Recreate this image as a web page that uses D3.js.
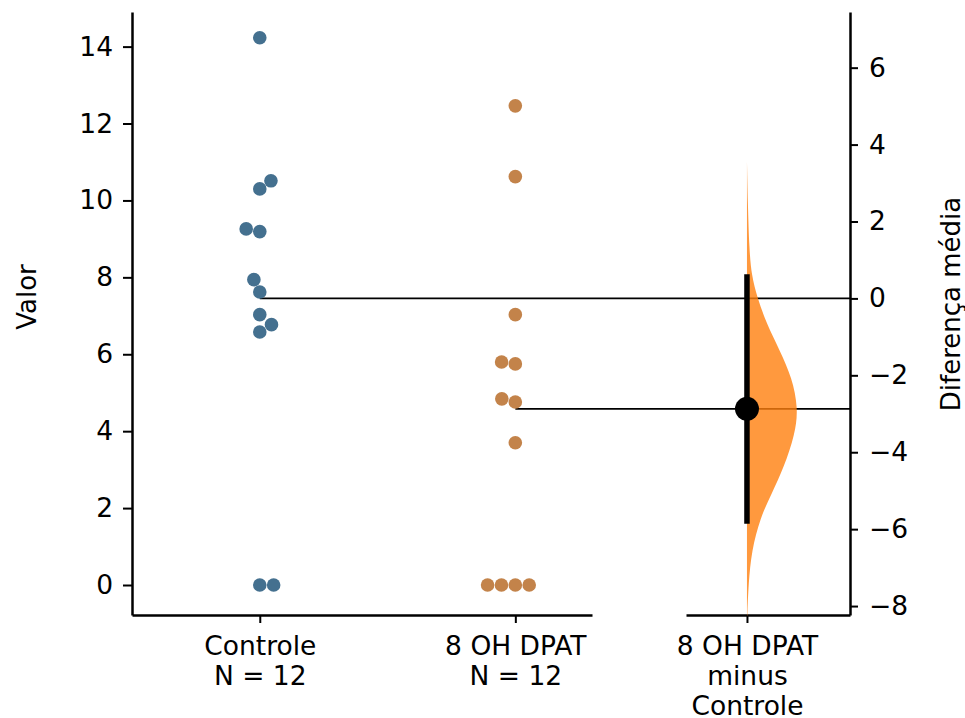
<!DOCTYPE html>
<html>
<head>
<meta charset="utf-8">
<script src="https://cdn.jsdelivr.net/npm/d3@7"></script>
<style>
  html, body { margin: 0; padding: 0; background: #fff; }
  svg { display: block; font-family: "DejaVu Sans", sans-serif; }
</style>
</head>
<body>
<svg id="chart" width="965" height="718"></svg>
<script>
// ---------------- data ----------------
const groups = ["Controle", "8 OH DPAT"];
const controleValues = [0, 0, 6.58, 6.77, 7.03, 7.62, 7.94, 9.19, 9.26, 10.30, 10.51, 14.23];
const dpatValues = [0, 0, 0, 0, 3.70, 4.76, 4.84, 5.75, 5.80, 7.03, 10.62, 12.46];
const groupLabels = [["Controle", "N = 12"], ["8 OH DPAT", "N = 12"]];
const contrastLabel = ["8 OH DPAT", "minus", "Controle"];
const leftTicks = [0, 2, 4, 6, 8, 10, 12, 14];
const rightTicks = [-8, -6, -4, -2, 0, 2, 4, 6];
// bootstrap distribution of the mean difference
const diffGrid = [3.55, 2.5, 1.25, 0.6, 0.03, -0.65, -1.35, -2.06, -2.86, -3.52, -4.40, -5.08, -5.70, -6.56, -7.42, -8.25];
const diffDensity = [0, 0.8, 2.3, 4.5, 10, 19, 32, 44, 50, 47, 36, 24, 13, 4.5, 1.5, 0.3];
const ciLow = -5.86, ciHigh = 0.63;

// ---------------- layout ----------------
const svg = d3.select("#chart");
const plotTop = 12, plotBottom = 615;
const y = d3.scaleLinear().domain([-0.78, 14.9]).range([plotBottom, plotTop]);
const xL = d3.scaleLinear().domain([-0.5, 1.3]).range([132, 592]);
const xR = d3.scaleLinear().domain([-0.5, 0.845]).range([686, 850]);

const meanC = d3.mean(controleValues);
const meanD = d3.mean(dpatValues);
const diff = meanD - meanC;
const yR = d3.scaleLinear().domain([y.domain()[0] - meanC, y.domain()[1] - meanC]).range([plotBottom, plotTop]);

const colors = ["#44708f", "#c3834a"];
const violinColor = "#ff7f0e";
const dotR = 6.8;
const fontFamily = "DejaVu Sans";
const tickFont = 26.5;
const titleFont = 26;
// swarm layout: side chosen (+1 right / -1 left) when two candidate slots are equally close
const swarmTieSides = [[1, 1, -1, -1, 1], [1, -1, -1, -1]];

// ---------------- swarm layout ----------------
function swarm(values, cx, r, tieSides) {
  const d = 2 * r;
  const pts = values.map(v => ({ v, py: y(v) })).sort((a, b) => b.py - a.py);
  const placed = [];
  let tieIdx = 0;
  pts.forEach(p => {
    const neigh = placed.filter(q => Math.abs(q.py - p.py) < d);
    const cands = [0];
    neigh.forEach(q => {
      const dy = p.py - q.py;
      const dx = Math.sqrt(Math.max(d * d - dy * dy, 0)) * 1.02;
      cands.push(q.off + dx, q.off - dx);
    });
    const ok = cands.filter(c => neigh.every(q => Math.hypot(c - q.off, p.py - q.py) >= d - 0.01));
    const minAbs = d3.min(ok, c => Math.abs(c));
    const ties = ok.filter(c => Math.abs(Math.abs(c) - minAbs) < 0.5);
    let chosen;
    if (ties.length > 1 && minAbs > 0.5) {
      const side = tieSides[tieIdx % tieSides.length];
      tieIdx++;
      chosen = side > 0 ? d3.max(ties) : d3.min(ties);
    } else chosen = ties[0];
    p.off = chosen;
    placed.push(p);
  });
  return placed.map(p => ({ x: cx + p.off, y: p.py, v: p.v }));
}

// ---------------- axes ----------------
function styleAxis(g) {
  g.attr("font-family", fontFamily).attr("font-size", tickFont);
  g.selectAll(".domain").attr("stroke", "#000").attr("stroke-width", 2.5);
  g.selectAll(".tick line").attr("stroke", "#000").attr("stroke-width", 2);
  g.selectAll("text").attr("font-size", tickFont).attr("font-family", fontFamily).attr("fill", "#000");
}

const gy = svg.append("g").attr("transform", `translate(${xL.range()[0]},0)`)
  .call(d3.axisLeft(y).tickValues(leftTicks).tickSize(9).tickSizeOuter(0).tickPadding(10));
styleAxis(gy);

const gyR = svg.append("g").attr("transform", `translate(${xR.range()[1]},0)`)
  .call(d3.axisRight(yR).tickValues(rightTicks).tickSize(8).tickSizeOuter(0).tickPadding(11));
styleAxis(gyR);

const gxL = svg.append("g").attr("transform", `translate(0,${plotBottom})`)
  .call(d3.axisBottom(xL).tickValues([0, 1]).tickSize(8).tickSizeOuter(0).tickFormat(() => ""));
styleAxis(gxL);
gxL.selectAll(".tick").each(function (d) {
  const t = d3.select(this).append("text").attr("text-anchor", "middle")
    .attr("font-size", tickFont).attr("font-family", fontFamily).attr("fill", "#000");
  groupLabels[d].forEach((s, i) => t.append("tspan").attr("x", 0).attr("y", 40 + i * 30).text(s));
});

const gxR = svg.append("g").attr("transform", `translate(0,${plotBottom})`)
  .call(d3.axisBottom(xR).tickValues([0]).tickSize(8).tickSizeOuter(0).tickFormat(() => ""));
styleAxis(gxR);
gxR.selectAll(".tick").each(function () {
  const t = d3.select(this).append("text").attr("text-anchor", "middle")
    .attr("font-size", tickFont).attr("font-family", fontFamily).attr("fill", "#000");
  contrastLabel.forEach((s, i) => t.append("tspan").attr("x", 0).attr("y", 40 + i * 30).text(s));
});

// axis titles
svg.append("text").attr("transform", `translate(36,297) rotate(-90)`)
  .attr("text-anchor", "middle").attr("font-size", titleFont).attr("font-family", fontFamily).text("Valor");
svg.append("text").attr("transform", `translate(960,304) rotate(-90)`)
  .attr("text-anchor", "middle").attr("font-size", titleFont).attr("font-family", fontFamily).text("Diferença média");

// ---------------- mean reference lines ----------------
const means = [meanC, meanD];
svg.append("g").selectAll("line").data(means).join("line")
  .attr("x1", (d, i) => xL(i)).attr("x2", xR.range()[1])
  .attr("y1", d => y(d)).attr("y2", d => y(d))
  .attr("stroke", "#000").attr("stroke-width", 1.6);

// ---------------- swarm dots ----------------
[controleValues, dpatValues].forEach((vals, i) => {
  svg.append("g").selectAll("circle").data(swarm(vals, xL(i), dotR, swarmTieSides[i])).join("circle")
    .attr("cx", d => d.x).attr("cy", d => d.y).attr("r", dotR)
    .attr("fill", colors[i]);
});

// ---------------- bootstrap half-violin ----------------
const violinWidth = 0.42;
const wScale = d3.scaleLinear().domain([0, d3.max(diffDensity)]).range([0, violinWidth]);
const violinData = diffGrid.map((g, i) => ({ g, w: diffDensity[i] }));
svg.append("path").datum(violinData)
  .attr("d", d3.area().curve(d3.curveBasis)
    .y(d => yR(d.g)).x0(xR(0)).x1(d => xR(wScale(d.w))))
  .attr("fill", violinColor).attr("fill-opacity", 0.8);

// CI bar and effect size dot
svg.append("line").attr("x1", xR(0)).attr("x2", xR(0))
  .attr("y1", yR(ciLow)).attr("y2", yR(ciHigh))
  .attr("stroke", "#000").attr("stroke-width", 5.5);
svg.append("circle").attr("cx", xR(0)).attr("cy", yR(diff)).attr("r", 12).attr("fill", "#000");
</script>
</body>
</html>
